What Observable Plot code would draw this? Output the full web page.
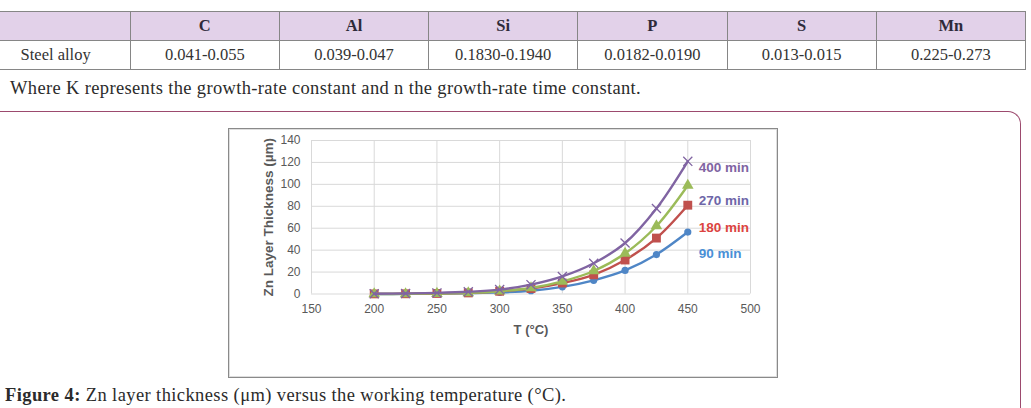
<!DOCTYPE html>
<html>
<head>
<meta charset="utf-8">
<script src="https://cdn.jsdelivr.net/npm/d3@7"></script>
<script src="https://cdn.jsdelivr.net/npm/@observablehq/plot@0.6"></script>
<style>
  html, body { margin: 0; padding: 0; background: #fff; }
  body { width: 1031px; height: 408px; position: relative; overflow: hidden; }
  .comp { position: absolute; left: -19.5px; top: 11px; width: 1045.5px; border-collapse: collapse; table-layout: fixed;
          font-family: "Liberation Serif", serif; font-size: 16.5px; color: #333; }
  .comp th, .comp td { border: 1.5px solid #868686; height: 28px; padding: 0; text-align: center; }
  .comp th { background: #e2d1e9; font-weight: bold; color: #2e2a3a; }
  .note { position: absolute; left: 10px; top: 78px; font-family: "Liberation Serif", serif; font-size: 18.5px; letter-spacing: 0.35px; color: #2b2b2b; white-space: nowrap; }
  .panel { position: absolute; left: -20px; top: 111px; width: 1041px; height: 400px; box-sizing: border-box;
           border-top: 1.5px solid #9c4a6e; border-right: 1.5px solid #9c4a6e; border-top-right-radius: 13px; }
  .chartbox { position: absolute; left: 228px; top: 128px; width: 550px; height: 250px; box-sizing: border-box;
              border: 1.5px solid #8a8a8a; background: #fff; }
  .chartbox .inner { position: absolute; left: 0; top: 0; right: 0; bottom: 0; border: 1px solid #dedede; }
  #chart { position: absolute; left: 228px; top: 128px; width: 550px; height: 250px; }
  .caption { position: absolute; left: 5px; top: 385px; font-family: "Liberation Serif", serif; font-size: 18.5px; letter-spacing: 0.4px; color: #2b2b2b; white-space: nowrap; }
</style>
</head>
<body>
<table class="comp">
  <tr><th></th><th>C</th><th>Al</th><th>Si</th><th>P</th><th>S</th><th>Mn</th></tr>
  <tr><td>Steel alloy</td><td>0.041-0.055</td><td>0.039-0.047</td><td>0.1830-0.1940</td><td>0.0182-0.0190</td><td>0.013-0.015</td><td>0.225-0.273</td></tr>
</table>
<div class="note">Where K represents the growth-rate constant and n the growth-rate time constant.</div>
<div class="panel"></div>
<div class="chartbox"><div class="inner"></div></div>
<div id="chart"></div>
<div class="caption"><b>Figure 4:</b> Zn layer thickness (μm) versus the working temperature (°C).</div>

<script>
// Working temperature (°C) and Zn layer thickness (µm) for each immersion time
const temps   = [200, 225, 250, 275, 300, 325, 350, 375, 400, 425, 450];
const min90   = [0, 0.1, 0.3, 0.8, 1.5, 3, 6.5, 12.5, 21.5, 36, 56.5];
const min180  = [0.1, 0.2, 0.5, 1, 2.5, 5, 10, 17.5, 31, 51, 81];
const min270  = [0, 0.1, 0.4, 1, 2.5, 5.5, 11.5, 21, 37, 62, 99];
const min400  = [0.2, 0.5, 1, 2, 4, 8.5, 16, 28, 46.5, 78, 121];

const seriesNames  = ["90 min", "180 min", "270 min", "400 min"];
const seriesValues = [min90, min180, min270, min400];
const lineColors   = ["#4f86c6", "#c0504d", "#9bbb59", "#8064a2"];
const labelColors  = ["#4a8fd6", "#dc4440", "#6e66a8", "#8064a2"];
const symbols      = ["circle", "square", "triangle", "times"];
const symbolSizes  = [3.6, 5, 4.3, 4.2];
const labelLevels  = [37, 60.5, 85, 115];

const xTicks = [150, 200, 250, 300, 350, 400, 450, 500];
const yTicks = [0, 20, 40, 60, 80, 100, 120, 140];

const rows = seriesNames.map((name, s) => temps.map((t, i) => ({series: name, s, T: t, v: seriesValues[s][i]})));
const labels = seriesNames.map((name, s) => ({name, s, T: 450, v: labelLevels[s]}));

const marks = [
  Plot.gridX(xTicks, {stroke: "#d9d9d9", strokeOpacity: 1, strokeWidth: 1}),
  Plot.gridY(yTicks, {stroke: "#d9d9d9", strokeOpacity: 1, strokeWidth: 1}),
  Plot.axisX(xTicks, {tickSize: 0, tickPadding: 10, label: null, fill: "#595959", fontSize: 12}),
  Plot.axisY(yTicks, {tickSize: 0, tickPadding: 11, label: null, fill: "#595959", fontSize: 12}),
  Plot.text(["Zn Layer Thickness (µm)"], {frameAnchor: "left", dx: -43, rotate: -90, textAnchor: "middle",
    fontWeight: "bold", fontSize: 13.5, fill: "#595959"}),
  Plot.text(["T (°C)"], {frameAnchor: "bottom", dy: 40, textAnchor: "middle", fontWeight: "bold", fontSize: 13, fill: "#595959"})
];

rows.forEach((data, s) => {
  marks.push(Plot.line(data, {x: "T", y: "v", stroke: lineColors[s], strokeWidth: 2.4, curve: "catmull-rom"}));
  if (symbols[s] === "times") {
    marks.push(Plot.dot(data, {x: "T", y: "v", symbol: "times", r: symbolSizes[s], stroke: lineColors[s], strokeWidth: 1.3}));
  } else {
    marks.push(Plot.dot(data, {x: "T", y: "v", symbol: symbols[s], r: symbolSizes[s], fill: lineColors[s], stroke: "none"}));
  }
});

marks.push(Plot.text(labels, {x: "T", y: "v", text: "name", dx: 11, textAnchor: "start", fontWeight: "bold", fontSize: 13.5,
  fill: d => labelColors[d.s]}));

const chart = Plot.plot({
  width: 550,
  height: 250,
  marginLeft: 83,
  marginRight: 28,
  marginTop: 12,
  marginBottom: 84.5,
  style: {fontFamily: "'Liberation Sans', Arial, sans-serif", fontSize: "12px", color: "#595959", background: "transparent", overflow: "visible"},
  x: {domain: [150, 500]},
  y: {domain: [0, 140]},
  marks
});
document.getElementById("chart").appendChild(chart);
</script>
</body>
</html>
